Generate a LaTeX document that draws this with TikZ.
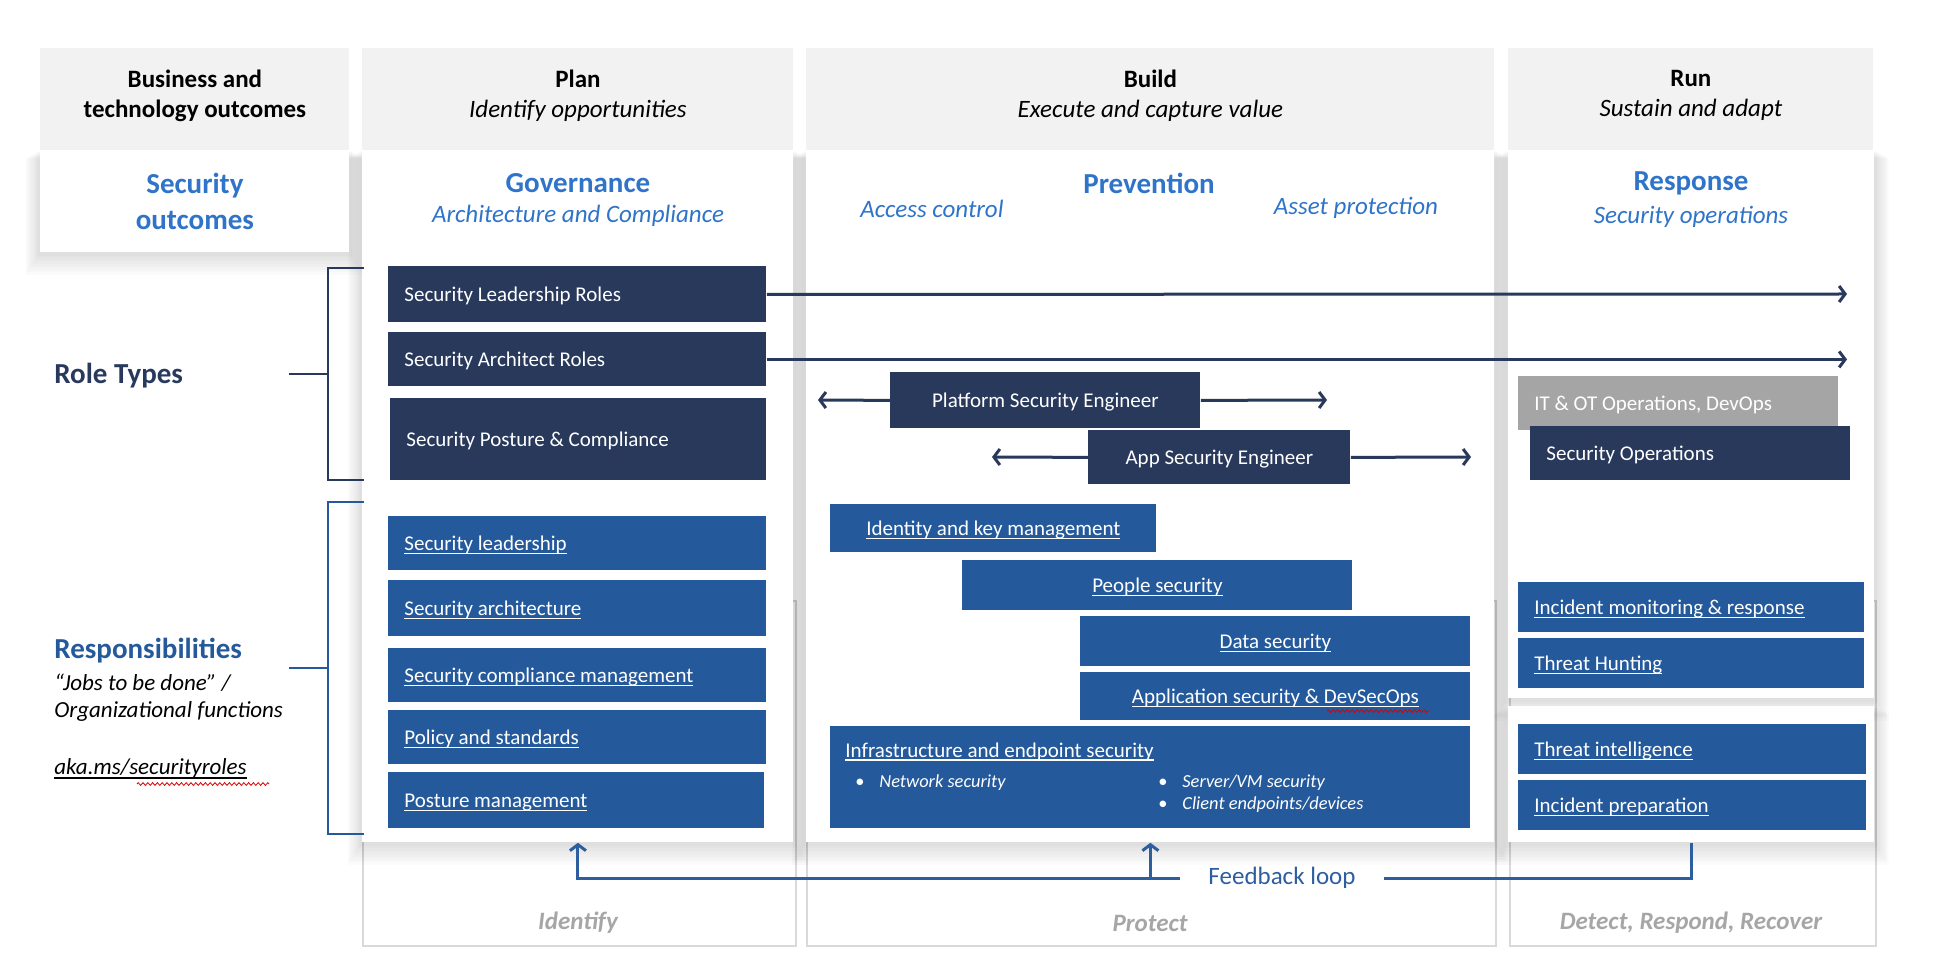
\documentclass[tikz,border=0pt]{standalone}
\usepackage{fontspec}
\setmainfont{Carlito}
\usetikzlibrary{arrows.meta,positioning,backgrounds,decorations.pathmorphing}

\definecolor{rolenavy}{HTML}{29395C}
\definecolor{respblue}{HTML}{245A9B}
\definecolor{titleblue}{HTML}{2F74C9}
\definecolor{opsgray}{HTML}{A5A5A5}
\definecolor{headgray}{HTML}{F2F2F2}
\definecolor{edgegray}{HTML}{D9D9D9}
\definecolor{phasegray}{HTML}{A6A6A6}
\definecolor{loopblue}{HTML}{2C5EA0}

% underlined link text, rule through the descenders
\newcommand{\linktext}[1]{\setbox0\hbox{#1}\rlap{\rule[-2pt]{\wd0}{0.9pt}}\box0}

\tikzset{
  colhead/.style={fill=headgray, anchor=north west, minimum height=51pt},
  headtext/.style={align=center, font=\fontsize{12.5}{15}\selectfont},
  panel/.style={fill=white, anchor=north west},
  phaseframe/.style={draw=edgegray, line width=1pt, fill=white, anchor=north west},
  coltitle/.style={text=titleblue, font=\fontsize{14.5}{18}\selectfont\bfseries},
  colsub/.style={text=titleblue, font=\fontsize{12.5}{15}\selectfont\itshape},
  cell/.style={anchor=north west, text=white, font=\fontsize{10.5}{13}\selectfont, text height=7pt, text depth=0pt},
  rolebox/.style={cell, fill=rolenavy},
  respbox/.style={cell, fill=respblue},
  lbox/.style={align=flush left, inner xsep=8pt},
  cellnote/.style={anchor=west, text=white, font=\fontsize{9.2}{11}\selectfont\itshape, text height=5pt, text depth=0pt},
  phase/.style={text=phasegray, font=\fontsize{12.5}{15}\selectfont\bfseries\itshape},
  barb/.style={-{Straight Barb[length=3pt,width=8pt]}},
  rolearrow/.style={rolenavy, line width=1.5pt, barb},
  rolebracket/.style={rolenavy, line width=1.3pt},
  respbracket/.style={respblue, line width=1.3pt},
  loopline/.style={loopblue, line width=1.5pt},
  squiggle/.style={red!85!black, line width=0.4pt, decorate, decoration={zigzag, segment length=2.4pt, amplitude=0.7pt}},
}

\begin{document}
\begin{tikzpicture}[x=0.5pt, y=-0.5pt, every node/.style={inner sep=0pt}]
\useasboundingbox (0,0) rectangle (1950,962);

% white column panels
\node[panel, minimum width=154.5pt, minimum height=51pt, align=center, text=titleblue, font=\fontsize{14.5}{18}\selectfont\bfseries] (secout) at (40,150) {Security\\outcomes};
\node[panel, minimum width=215.5pt, minimum height=346pt] (planpanel) at (362,150) {};
\node[panel, minimum width=344pt, minimum height=346pt] (buildpanel) at (806,150) {};
\node[panel, minimum width=183pt, minimum height=274pt] (runup) at (1508,150) {};
\node[panel, minimum width=183pt, minimum height=68pt] (runlow) at (1508,706) {};

\begin{scope}[on background layer]
  % phase frames
  \node[phaseframe, minimum width=216.5pt, minimum height=172.5pt] (planframe) at (362,600) {};
  \node[phaseframe, minimum width=344.5pt, minimum height=172.5pt] (buildframe) at (806,600) {};
  \node[phaseframe, minimum width=183pt, minimum height=172.5pt] (runframe) at (1509,600) {};
  % soft shadows
  \foreach \p in {secout,planpanel,buildpanel,runup,runlow}
    \foreach \s in {1,...,8}
      \fill[black, opacity=0.017] ([xshift=-\s*0.9pt, yshift=-\s*0.5pt]\p.north west) rectangle ([xshift=\s*0.9pt, yshift=-\s*1.4pt]\p.south east);
\end{scope}

% column heads
\node[colhead, minimum width=154.5pt] (bizhead) at (40,48) {};
\node[colhead, minimum width=215.5pt] (planhead) at (362,48) {};
\node[colhead, minimum width=344pt] (buildhead) at (806,48) {};
\node[colhead, minimum width=182.5pt] (runhead) at (1508,48) {};
\node[headtext, font=\fontsize{12.5}{15}\selectfont\bfseries] (biztext) at ([yshift=2pt]bizhead.center) {Business and\\technology outcomes};
\node[headtext] (plantext) at ([yshift=2pt]planhead.center) {\textbf{Plan}\\\textit{Identify opportunities}};
\node[headtext] (buildtext) at ([yshift=2pt]buildhead.center) {\textbf{Build}\\\textit{Execute and capture value}};
\node[headtext] (runtext) at ([yshift=2pt]runhead.center) {\textbf{Run}\\\textit{Sustain and adapt}};

% panel titles
\node[coltitle] (govtitle) at (578,183) {Governance};
\node[colsub] (govsub) at (578,216) {Architecture and Compliance};
\node[coltitle] (prevtitle) at (1149,183) {Prevention};
\node[colsub] (access) at (932,209) {Access control};
\node[colsub] (asset) at (1356,208) {Asset protection};
\node[coltitle] (resptitle) at (1691,183) {Response};
\node[colsub] (respsub) at (1691,217) {Security operations};

% role types
\node[rolebox, lbox, text width=173pt, minimum height=28pt] (lead) at (388,266) {Security Leadership Roles};
\node[rolebox, lbox, text width=173pt, minimum height=27pt] (archr) at (388,332) {Security Architect Roles};
\node[rolebox, lbox, text width=172pt, minimum height=41pt] (posture) at (390,398) {Security Posture \& Compliance};
\node[rolebox, minimum width=155pt, minimum height=28pt] (platform) at (890,372) {Platform Security Engineer};
\node[rolebox, minimum width=131pt, minimum height=27pt] (appsec) at (1088,430) {App Security Engineer};
\node[cell, fill=opsgray, lbox, text width=144pt, minimum height=27pt] (itot) at (1518,376) {IT \& OT Operations, DevOps};
\node[rolebox, lbox, text width=144pt, minimum height=27pt] (secops) at (1530,426) {Security Operations};

% role reach
\coordinate (leadend) at (1847,294);
\coordinate (platleft) at (818,400);
\coordinate (platright) at (1327,400);
\coordinate (appleft) at (992,457);
\coordinate (appright) at (1471,457);
\draw[rolearrow] (lead.east) -- (leadend);
\draw[rolearrow] (archr.east) -- (archr.east -| leadend);
\draw[rolearrow] (platform.west) -- (platleft);
\draw[rolearrow] (platform.east) -- (platright);
\draw[rolearrow] (appsec.west) -- (appleft);
\draw[rolearrow] (appsec.east) -- (appright);

% responsibilities
\node[respbox, lbox, text width=173pt, minimum height=27pt] (sl) at (388,516) {\linktext{Security leadership}};
\node[respbox, lbox, text width=173pt, minimum height=28pt] (sa) at (388,580) {\linktext{Security architecture}};
\node[respbox, lbox, text width=173pt, minimum height=27pt] (scm) at (388,648) {\linktext{Security compliance management}};
\node[respbox, lbox, text width=173pt, minimum height=27pt] (ps) at (388,710) {\linktext{Policy and standards}};
\node[respbox, lbox, text width=172pt, minimum height=28pt] (pm) at (388,772) {\linktext{Posture management}};

\node[respbox, minimum width=163pt, minimum height=24pt] (ikm) at (830,504) {\linktext{Identity and key management}};
\node[respbox, minimum width=195pt, minimum height=25pt] (people) at (962,560) {\linktext{People security}};
\node[respbox, minimum width=195pt, minimum height=25pt] (data) at (1080,616) {\linktext{Data security}};
\node[respbox, minimum width=195pt, minimum height=24pt] (appdev) at (1080,672) {\linktext{Application security \& DevSecOps}};
\node[respbox, minimum width=320pt, minimum height=51pt] (infra) at (830,726) {};
\node[cellnote, font=\fontsize{10.5}{13}\selectfont, text height=7pt] (infratitle) at (845,750) {\linktext{Infrastructure and endpoint security}};
\node[cellnote] (netsec) at (855,782) {\makebox[12pt][l]{\upshape\textbullet}Network security};
\node[cellnote] (vmsec) at (1158,782) {\makebox[12pt][l]{\upshape\textbullet}Server/VM security};
\node[cellnote] (clientsec) at (1158,804) {\makebox[12pt][l]{\upshape\textbullet}Client endpoints/devices};

\node[respbox, lbox, text width=157pt, minimum height=25pt] (imr) at (1518,582) {\linktext{Incident monitoring \& response}};
\node[respbox, lbox, text width=157pt, minimum height=25pt] (hunt) at (1518,638) {\linktext{Threat Hunting}};
\node[respbox, lbox, text width=158pt, minimum height=25pt] (intel) at (1518,724) {\linktext{Threat intelligence}};
\node[respbox, lbox, text width=158pt, minimum height=25pt] (prep) at (1518,780) {\linktext{Incident preparation}};

% left labels
\node[anchor=west, text=rolenavy, font=\fontsize{14.5}{18}\selectfont\bfseries] (roletypes) at (54,376) {Role Types};
\node[anchor=west, text=respblue, font=\fontsize{14.5}{18}\selectfont\bfseries] (resplabel) at (54,651) {Responsibilities};
\node[anchor=west, font=\fontsize{11.5}{14}\selectfont\itshape] (jobs) at (54,683) {“Jobs to be done” /};
\node[anchor=west, font=\fontsize{11.5}{14}\selectfont\itshape] (orgfun) at (54,711) {Organizational functions};
\node[anchor=west, font=\fontsize{11.5}{14}\selectfont\itshape] (aka) at (54,769) {\linktext{aka.ms/securityroles}};

% brackets
\coordinate (rtop) at (364,268);
\coordinate (rbot) at (364,480);
\coordinate (rtick) at (289,374);
\draw[rolebracket] (rtop) -- ++(-36,0) |- (rbot);
\draw[rolebracket] (rtick) -- ++(39,0);
\coordinate (qtop) at (364,502);
\coordinate (qbot) at (364,834);
\coordinate (qtick) at (289,668);
\draw[respbracket] (qtop) -- ++(-36,0) |- (qbot);
\draw[respbracket] (qtick) -- ++(39,0);

% spelling marks
\draw[squiggle] (137,784) -- (269,784);
\draw[squiggle] (1327,711) -- (1429,711);

% feedback loop
\node[text=loopblue, font=\fontsize{12.5}{15}\selectfont, inner xsep=14pt] (fbtext) at (1282,878) {Feedback loop};
\draw[loopline] (runlow.south) |- (fbtext.east);
\draw[loopline, barb] (fbtext.west) -| (planpanel.south);
\draw[loopline, barb] (fbtext.west -| buildpanel.south) -- (buildpanel.south);

% phases
\node[phase] (identify) at (578,923) {Identify};
\node[phase] (protect) at (1150,923) {Protect};
\node[phase] (detect) at (1691,923) {Detect, Respond, Recover};
\end{tikzpicture}
\end{document}
